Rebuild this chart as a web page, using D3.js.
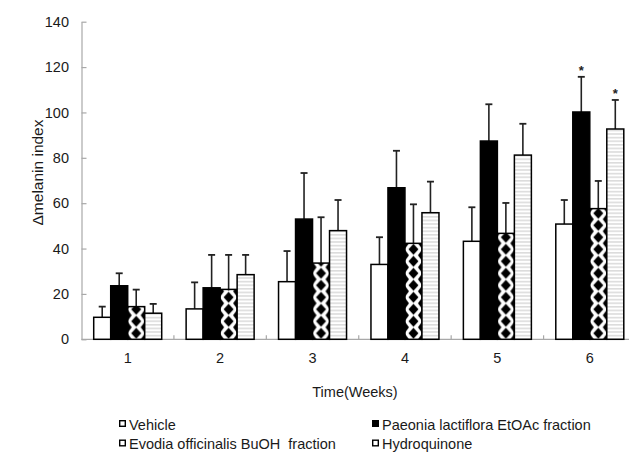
<!DOCTYPE html>
<html>
<head>
<meta charset="utf-8">
<script src="https://cdn.jsdelivr.net/npm/d3@7"></script>
<style>
  body { margin: 0; background: #fff; }
  svg { display: block; font-family: "Liberation Sans", Arial, sans-serif; }
</style>
</head>
<body>
<script>
// weeks on the x axis
var weeks = ['1', '2', '3', '4', '5', '6'];
var seriesNames = ['Vehicle', 'Paeonia lactiflora EtOAc fraction', 'Evodia officinalis BuOH  fraction', 'Hydroquinone'];

// mean values
var vehicle = [9.7, 13.4, 25.4, 33.0, 43.2, 50.8];
var paeonia = [23.6, 22.7, 53.0, 66.8, 87.4, 100.2];
var evodia = [14.4, 22.0, 33.6, 42.3, 46.7, 57.6];
var hydroquinone = [11.5, 28.5, 47.9, 55.8, 81.2, 92.7];

// upper error (SD)
var vehicleErr = [4.7, 11.7, 13.5, 12.0, 15.0, 10.6];
var paeoniaErr = [5.5, 14.5, 20.3, 16.3, 16.2, 15.5];
var evodiaErr = [7.5, 15.2, 20.2, 17.2, 13.4, 12.2];
var hydroquinoneErr = [4.1, 8.7, 13.5, 13.7, 13.8, 12.8];

// significance marks
var paeoniaSig = ['', '', '', '', '', '*'];
var hydroquinoneSig = ['', '', '', '', '', '*'];

var yTicks = [0, 20, 40, 60, 80, 100, 120, 140];

const width = 629;
const height = 452;
const margin = { left: 81.5, top: 21.7, bottom: 339.3, right: 636 };
const barWidth = 17;

const rows = [];
weeks.forEach(function (w, i) {
    rows.push({ week: w, s: 0, v: vehicle[i], e: vehicleErr[i], sig: '' });
    rows.push({ week: w, s: 1, v: paeonia[i], e: paeoniaErr[i], sig: paeoniaSig[i] });
    rows.push({ week: w, s: 2, v: evodia[i], e: evodiaErr[i], sig: '' });
    rows.push({ week: w, s: 3, v: hydroquinone[i], e: hydroquinoneErr[i], sig: hydroquinoneSig[i] });
});

const svg = d3.select("body").append("svg")
    .attr("width", width)
    .attr("height", height);

const defs = svg.append("defs");

// x scales
const x = d3.scaleBand()
    .domain(weeks)
    .range([margin.left, margin.right]);

const xInner = d3.scaleBand()
    .domain([0, 1, 2, 3])
    .range([-2 * barWidth, 2 * barWidth]);

// y scale
const y = d3.scaleLinear()
    .domain([0, 140])
    .range([margin.bottom, margin.top]);

const axisColor = "#a8a8a8";

// horizontal stripes pattern
const stripe = defs.append("pattern")
    .attr("id", "stripes")
    .attr("patternUnits", "userSpaceOnUse")
    .attr("width", 4)
    .attr("height", 3.6);
stripe.append("rect").attr("width", 4).attr("height", 3.6).attr("fill", "#fff");
stripe.append("rect").attr("y", 0).attr("width", 4).attr("height", 1.6).attr("fill", "#dcdcdc");

function barX(d) { return x(d.week) + x.bandwidth() / 2 + xInner(d.s); }

// one diamond pattern per evodia bar, aligned to the bar
rows.filter(function (d) { return d.s === 2; }).forEach(function (d, i) {
    const p = defs.append("pattern")
        .attr("id", "diam" + i)
        .attr("patternUnits", "userSpaceOnUse")
        .attr("x", barX(d))
        .attr("y", y(0))
        .attr("width", barWidth)
        .attr("height", 12);
    p.append("rect").attr("width", barWidth).attr("height", 12).attr("fill", "#fff");
    const c = barWidth / 2;
    p.append("path")
        .attr("fill", "#000")
        .attr("d",
            "M" + c + ",0.5 L" + (c + 5) + ",6 L" + c + ",11.5 L" + (c - 5) + ",6Z" +
            "M0,-5.5 L4,0 L0,5.5Z M0,6.5 L4,12 L0,17.5Z" +
            "M" + barWidth + ",-5.5 L" + (barWidth - 4) + ",0 L" + barWidth + ",5.5Z" +
            "M" + barWidth + ",6.5 L" + (barWidth - 4) + ",12 L" + barWidth + ",17.5Z");
    d.pat = "url(#diam" + i + ")";
});

function fillOf(d) {
    if (d.s === 0) return "#fff";
    if (d.s === 1) return "#000";
    if (d.s === 2) return d.pat;
    return "url(#stripes)";
}

// y axis
const yAxis = d3.axisLeft(y)
    .tickValues(yTicks)
    .tickSizeInner(-5)
    .tickSizeOuter(0)
    .tickPadding(12.5);

const yG = svg.append("g")
    .attr("transform", `translate(${margin.left},0)`)
    .call(yAxis);
yG.select(".domain").attr("stroke", axisColor).attr("stroke-width", 1.2);
yG.selectAll(".tick line").attr("stroke", axisColor).attr("stroke-width", 1.2);
yG.selectAll(".tick text")
    .attr("fill", "#1a1a1a")
    .style("font-size", "14.5px")
    .style("font-family", "'Liberation Sans', Arial, sans-serif");

// x axis line and boundary ticks
svg.append("line")
    .attr("x1", margin.left).attr("x2", margin.right)
    .attr("y1", y(0)).attr("y2", y(0))
    .attr("stroke", axisColor).attr("stroke-width", 1.2);

svg.selectAll(".xtick")
    .data(weeks.slice(1))
    .enter().append("line")
    .attr("class", "xtick")
    .attr("x1", function (d) { return x(d); })
    .attr("x2", function (d) { return x(d); })
    .attr("y1", y(0))
    .attr("y2", y(0) - 4)
    .attr("stroke", axisColor).attr("stroke-width", 1.2);

const xAxis = d3.axisBottom(x).tickSize(0).tickPadding(13.5);
const xG = svg.append("g")
    .attr("transform", `translate(0,${y(0)})`)
    .call(xAxis);
xG.select(".domain").remove();
xG.selectAll(".tick text")
    .attr("fill", "#1a1a1a")
    .style("font-size", "14.5px")
    .style("font-family", "'Liberation Sans', Arial, sans-serif");

// error bars
const errG = svg.append("g");
rows.forEach(function (d) {
    const cx = barX(d) + barWidth / 2;
    errG.append("line")
        .attr("x1", cx).attr("x2", cx)
        .attr("y1", y(d.v)).attr("y2", y(d.v + d.e))
        .attr("stroke", "#222").attr("stroke-width", 1.6);
    errG.append("line")
        .attr("x1", cx - 3.5).attr("x2", cx + 3.5)
        .attr("y1", y(d.v + d.e)).attr("y2", y(d.v + d.e))
        .attr("stroke", "#222").attr("stroke-width", 1.8);
    if (d.sig) {
        errG.append("text")
            .attr("x", cx)
            .attr("y", y(d.v + d.e) - 2)
            .attr("text-anchor", "middle")
            .style("font-size", "13px")
            .style("font-weight", "bold")
            .attr("fill", "#222")
            .text(d.sig);
    }
});

// bars
svg.append("g").selectAll("rect")
    .data(rows)
    .enter().append("rect")
    .attr("x", barX)
    .attr("y", function (d) { return y(d.v); })
    .attr("width", barWidth)
    .attr("height", function (d) { return y(0) - y(d.v); })
    .attr("fill", fillOf)
    .attr("stroke", "#000")
    .attr("stroke-width", 1.5);

// axis titles
svg.append("text")
    .attr("x", 355)
    .attr("y", 397)
    .attr("text-anchor", "middle")
    .style("font-size", "14.5px")
    .attr("fill", "#1a1a1a")
    .text("Time(Weeks)");

svg.append("text")
    .attr("transform", "translate(43,172.5) rotate(-90)")
    .attr("text-anchor", "middle")
    .style("font-size", "15.5px")
    .attr("fill", "#1a1a1a")
    .text("\u0394melanin index");

// legend
const legendPos = [
    { x: 119, y: 429.5 },
    { x: 372, y: 429.5 },
    { x: 119, y: 449 },
    { x: 372, y: 449 }
];
const legend = svg.append("g");
seriesNames.forEach(function (name, i) {
    const p = legendPos[i];
    legend.append("rect")
        .attr("x", p.x + 0.7)
        .attr("y", p.y - 8.8)
        .attr("width", 5.6)
        .attr("height", 5.6)
        .attr("fill", i === 1 ? "#000" : "#fff")
        .attr("stroke", "#000")
        .attr("stroke-width", 1.4);
    legend.append("text")
        .attr("x", p.x + 10)
        .attr("y", p.y)
        .style("font-size", "14.5px")
        .style("white-space", "pre")
        .attr("xml:space", "preserve")
        .attr("fill", "#1a1a1a")
        .text(name);
});
</script>
</body>
</html>
